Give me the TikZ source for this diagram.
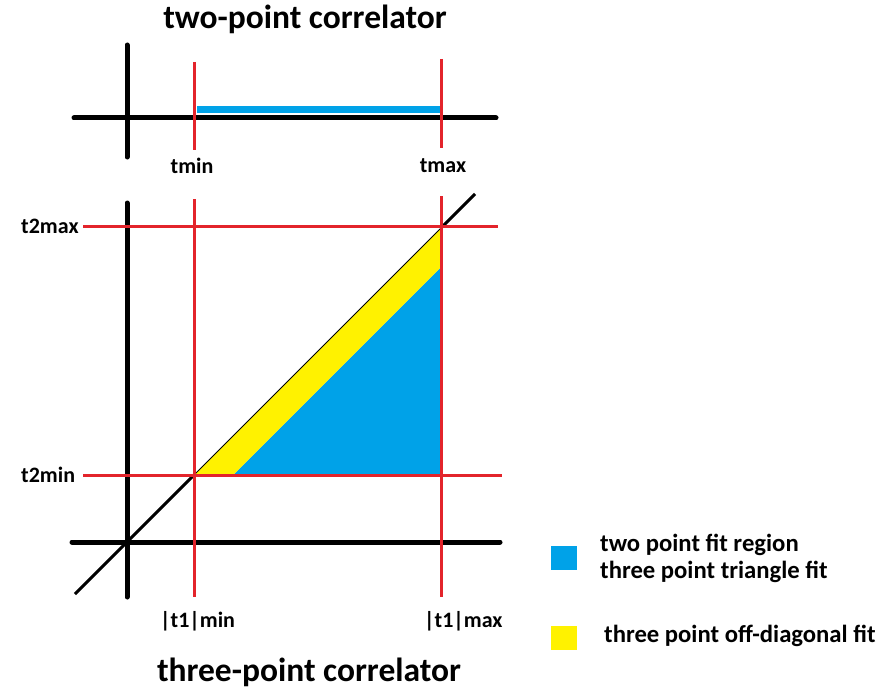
\documentclass[tikz,border=0pt]{standalone}
\usepackage{fontspec}
\setmainfont{Carlito}
\usetikzlibrary{positioning, calc}
\definecolor{AxisInk}{HTML}{000000}
\definecolor{CutInk}{HTML}{E3242B}
\definecolor{TwoFill}{HTML}{00A2E8}
\definecolor{OffFill}{HTML}{FFF200}

\begin{document}
\begin{tikzpicture}[
    x=1pt, y=-1pt,
    axis/.style={line width=5pt, draw=AxisInk, line cap=round},
    cut/.style={line width=3pt, draw=CutInk},
    diag/.style={line width=3pt, draw=AxisInk},
    title/.style={font=\bfseries\fontsize{33.5}{36}\selectfont, inner sep=0pt},
    tick/.style={font=\bfseries\fontsize{22}{24}\selectfont, inner sep=0pt},
    legtext/.style={font=\bfseries\fontsize{24.7}{27}\selectfont, inner sep=0pt, anchor=west, align=left},
    swatch/.style={minimum width=26pt, minimum height=24pt, inner sep=0pt},
  ]
    \useasboundingbox (0,0) rectangle (880,690);

    % two-point correlator
    \node[title] (toptitle) at (305,19) {two-point correlator};
    \coordinate (ha) at (74,118);
    \coordinate (hb) at (496,118);
    \coordinate (va) at (127,45);
    \coordinate (vb) at (127,157);
    \fill[TwoFill] (197,106) rectangle (440,113);
    \draw[axis] (ha) -- (hb);
    \draw[axis] (va) -- (vb);
    \draw[cut] (194,62) -- (194,150);
    \draw[cut] (441,59) -- (441,148);
    \node[tick] (tmin) at (192,166) {tmin};
    \node[tick] (tmax) at (443,166) {tmax};

    % three-point correlator
    \coordinate (origin) at (127,542);
    \coordinate (lo) at (194,475);
    \coordinate (hi) at (441,228);
    \coordinate (corner) at (441,475);
    \fill[TwoFill] (233,475) -- (441,267) -- (corner) -- cycle;
    \fill[OffFill] (lo) -- (hi) -- (441,267) -- (233,475) -- cycle;
    \draw[axis] (72,542) -- (500,542);
    \draw[axis] (127,203) -- (127,597);
    \draw[diag] (75,594) -- (lo);
    \draw[diag] (hi) -- (475,194);
    \draw[line width=0.8pt] (lo) -- (hi);
    \draw[cut] (194,199) -- (194,597);
    \draw[cut] (441,196) -- (441,597);
    \draw[cut] (83,226) -- (498,226);
    \draw[cut] (83,475) -- (502,475);
    \node[tick, anchor=west] (t2max) at (21,226) {t2max};
    \node[tick, anchor=west] (t2min) at (21,475) {t2min};
    \node[tick, anchor=west] (t1min) at (160,621) {|t1|min};
    \node[tick, anchor=west] (t1max) at (424,621) {|t1|max};
    \node[title] (bottitle) at (309,672) {three-point correlator};

    % legend
    \node[swatch, fill=TwoFill] (bluekey) at (564,558) {};
    \node[swatch, fill=OffFill] (yellowkey) at (564,638) {};
    \node[legtext] (bluetext) at (600,558) {two point fit region\\three point triangle fit};
    \node[legtext] (yellowtext) at (604,636) {three point off-diagonal fit};
  \end{tikzpicture}
\end{document}
